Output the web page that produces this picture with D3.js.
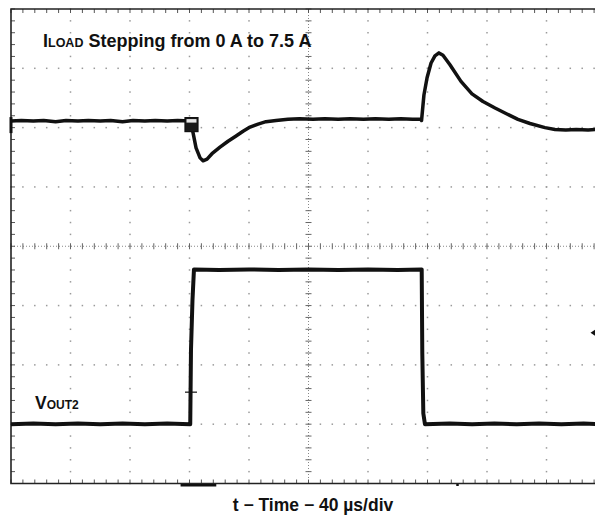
<!DOCTYPE html>
<html>
<head>
<meta charset="utf-8">
<script src="https://cdn.jsdelivr.net/npm/d3@7"></script>
<style>
  html, body { margin: 0; padding: 0; background: #fff; }
  svg { display: block; }
  text { font-family: "Liberation Sans", Arial, sans-serif; font-weight: bold; fill: #111; }
</style>
</head>
<body>
<svg id="scope" width="595" height="519"></svg>
<script>
// Time axis: 10 divisions of 40 µs; vertical axis: 8 divisions, 0 at screen centre.
const timeDivs = d3.range(0, 401, 40);
const levelDivs = d3.range(-4, 5, 1);

// Upper trace (output deviation), time in µs, level in divisions
const upperTime = [0, 7, 15, 22, 30, 37, 45, 52, 60, 67, 75, 82, 90, 97, 105, 112, 120.5,
  122.4, 124.4, 127.1, 129.1, 131.8, 135.1, 140.5, 145.9, 151.3, 156.0, 160.7, 166.1, 171.4, 178.2, 186.2,
  194, 203, 211, 220, 228, 237, 245, 254, 262, 270, 275.5,
  276.0, 277.6, 279.7, 282.4, 285.0, 287.7, 290.4, 295.1, 302.5, 309.9, 317.3, 325.4, 333.4, 340.8, 348.9,
  359.0, 365.7, 373, 380, 388, 395, 400];
const upperDiv = [2.11, 2.12, 2.11, 2.12, 2.10, 2.12, 2.11, 2.12, 2.11, 2.12, 2.10, 2.12, 2.11, 2.12, 2.11, 2.12, 2.11,
  1.91, 1.66, 1.49, 1.44, 1.47, 1.56, 1.67, 1.77, 1.86, 1.94, 2.01, 2.06, 2.10, 2.12, 2.14,
  2.15, 2.14, 2.15, 2.14, 2.15, 2.14, 2.15, 2.14, 2.15, 2.14, 2.14,
  2.12, 2.55, 2.84, 3.09, 3.21, 3.26, 3.22, 3.06, 2.78, 2.57, 2.44, 2.33, 2.23, 2.14, 2.07,
  2.00, 1.97, 1.96, 1.97, 1.96, 1.97, 1.96];

// Lower trace (load step), time in µs, level in divisions
const lowerTime = [0, 15, 30, 45, 60, 75, 90, 105, 120.5,
  121.0, 122.0, 123.0, 140, 160, 180, 200, 220, 240, 260, 276.1,
  276.5, 277.2, 278.3, 295, 310, 325, 340, 355, 370, 385, 400];
const lowerDiv = [-3.00, -2.99, -3.00, -2.99, -3.00, -2.99, -3.00, -2.99, -3.00,
  -1.75, -0.91, -0.39, -0.40, -0.39, -0.40, -0.39, -0.40, -0.39, -0.40, -0.39,
  -1.80, -2.82, -3.00, -2.99, -3.00, -2.99, -3.00, -2.99, -3.00, -2.99, -3.00];

const titleMain = "I";
const titleSub = "LOAD";
const titleRest = " Stepping from 0 A to 7.5 A";
const traceMain = "V";
const traceSub = "OUT2";
const axisLabel = "t \u2212 Time \u2212 40 \u00b5s/div";

const svg = d3.select("#scope");
const x = d3.scaleLinear().domain([0, 400]).range([11, 606]);
const y = d3.scaleLinear().domain([-4, 4]).range([483.5, 9]);

const minorT = d3.range(0, 400.01, 8);
const minorV = d3.range(-4, 4.001, 0.2);

svg.append("rect").attr("width", 595).attr("height", 519).attr("fill", "#fff");

const grid = svg.append("g");

// dotted graticule lines (dots at every minor step)
timeDivs.filter(t => t > 0 && t < 400 && t !== 200).forEach(t => {
  grid.selectAll(null).data(minorV).enter().append("rect")
    .attr("x", x(t) - 0.75).attr("y", v => y(v) - 0.75)
    .attr("width", 1.5).attr("height", 1.5).attr("fill", "#9a9a9a");
});
levelDivs.filter(v => v > -4 && v < 4 && v !== 0).forEach(v => {
  grid.selectAll(null).data(minorT).enter().append("rect")
    .attr("x", t => x(t) - 0.75).attr("y", y(v) - 0.75)
    .attr("width", 1.5).attr("height", 1.5).attr("fill", "#9a9a9a");
});

// centre axes with tick marks
grid.append("line").attr("x1", x(0)).attr("x2", x(400)).attr("y1", y(0)).attr("y2", y(0))
  .attr("stroke", "#888").attr("stroke-width", 1).attr("stroke-dasharray", "1,2");
grid.append("line").attr("x1", x(200)).attr("x2", x(200)).attr("y1", y(4)).attr("y2", y(-4))
  .attr("stroke", "#888").attr("stroke-width", 1).attr("stroke-dasharray", "1,2");
grid.selectAll(null).data(minorT).enter().append("line")
  .attr("x1", t => x(t)).attr("x2", t => x(t)).attr("y1", y(0) - 3).attr("y2", y(0) + 3)
  .attr("stroke", "#666").attr("stroke-width", 1);
grid.selectAll(null).data(minorV).enter().append("line")
  .attr("x1", x(200) - 3).attr("x2", x(200) + 3).attr("y1", v => y(v)).attr("y2", v => y(v))
  .attr("stroke", "#666").attr("stroke-width", 1);

// border ticks
grid.selectAll(null).data(minorT).enter().append("line")
  .attr("x1", t => x(t)).attr("x2", t => x(t)).attr("y1", y(4)).attr("y2", y(4) + 4)
  .attr("stroke", "#555").attr("stroke-width", 1);
grid.selectAll(null).data(minorT).enter().append("line")
  .attr("x1", t => x(t)).attr("x2", t => x(t)).attr("y1", y(-4)).attr("y2", y(-4) - 4)
  .attr("stroke", "#555").attr("stroke-width", 1);
grid.selectAll(null).data(minorV).enter().append("line")
  .attr("x1", x(0)).attr("x2", x(0) + 4).attr("y1", v => y(v)).attr("y2", v => y(v))
  .attr("stroke", "#555").attr("stroke-width", 1);

// frame
grid.append("path")
  .attr("d", `M${x(400)},${y(4)}H${x(0)}V${y(-4)}H${x(400)}`)
  .attr("fill", "none").attr("stroke", "#222").attr("stroke-width", 1.6);

// traces
const line = d3.line().x(d => x(d[0])).y(d => y(d[1])).curve(d3.curveLinear);
const upper = upperTime.map((t, i) => [t, upperDiv[i]]);
const lower = lowerTime.map((t, i) => [t, lowerDiv[i]]);

svg.append("path").datum(upper).attr("d", line)
  .attr("fill", "none").attr("stroke", "#111").attr("stroke-width", 3.5).attr("stroke-linejoin", "round");
svg.append("path").datum(lower).attr("d", line)
  .attr("fill", "none").attr("stroke", "#111").attr("stroke-width", 4).attr("stroke-linejoin", "round");

// channel reference marker at left edge of the upper trace
svg.append("rect").attr("x", x(0) - 1.5).attr("y", y(upperDiv[0]) - 4).attr("width", 3).attr("height", 16).attr("fill", "#111");

// trigger marker box on the upper trace
const trig = 121;
svg.append("rect").attr("x", x(trig) - 6).attr("y", y(upperDiv[0]) - 3.5)
  .attr("width", 13).attr("height", 14).attr("fill", "#1a1a1a").attr("stroke", "#111").attr("stroke-width", 1.2);
svg.append("rect").attr("x", x(trig) - 4.5).attr("y", y(upperDiv[0]) - 2)
  .attr("width", 10).attr("height", 3.5).attr("fill", "#e8e8e8");

// trigger level cross on the rising edge
const crossV = -2.46;
svg.append("line").attr("x1", x(trig) - 6).attr("x2", x(trig) + 6).attr("y1", y(crossV)).attr("y2", y(crossV))
  .attr("stroke", "#111").attr("stroke-width", 1.2);
svg.append("line").attr("x1", x(trig)).attr("x2", x(trig)).attr("y1", y(crossV) - 6).attr("y2", y(crossV) + 6)
  .attr("stroke", "#111").attr("stroke-width", 1.2);

// trigger position bar under the frame and small marks
svg.append("rect").attr("x", x(114)).attr("y", y(-4) + 0.5).attr("width", x(138) - x(114)).attr("height", 2.5).attr("fill", "#111");
svg.append("rect").attr("x", x(300) - 1).attr("y", y(-4) + 0.5).attr("width", 2.5).attr("height", 2).attr("fill", "#111");
svg.append("path").attr("d", `M590.5,${y(-1.46)}L595,${y(-1.46) - 3}V${y(-1.46) + 3}Z`).attr("fill", "#111");

// labels
const t1 = svg.append("text").attr("x", 43).attr("y", 47);
t1.append("tspan").attr("font-size", 18).text(titleMain);
t1.append("tspan").attr("font-size", 12.5).text(titleSub);
t1.append("tspan").attr("font-size", 18).text(titleRest);

const t2 = svg.append("text").attr("x", 35).attr("y", 409);
t2.append("tspan").attr("font-size", 17.5).text(traceMain);
t2.append("tspan").attr("font-size", 12).text(traceSub);

svg.append("text").attr("x", 313).attr("y", 511).attr("text-anchor", "middle")
  .attr("font-size", 17.5).text(axisLabel);
</script>
</body>
</html>
